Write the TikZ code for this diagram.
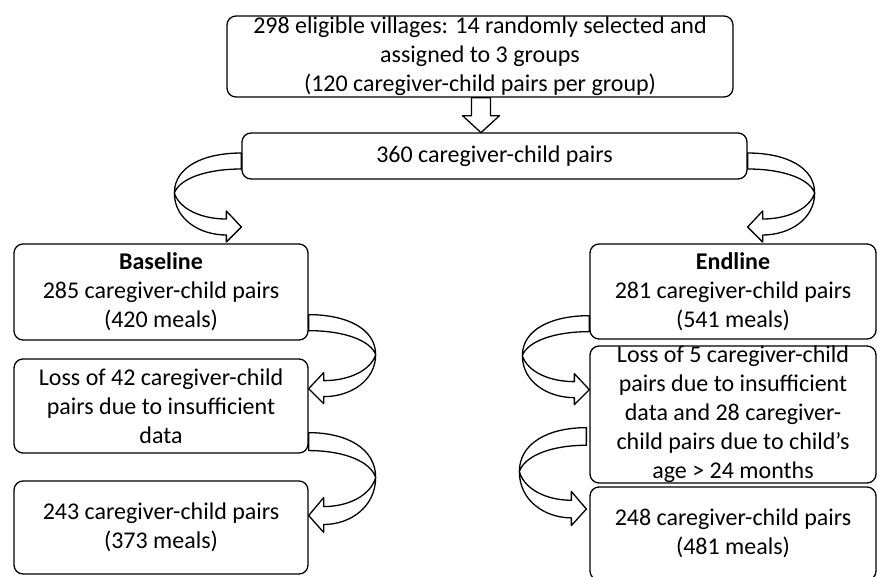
\documentclass[tikz,border=0pt]{standalone}
\usepackage{fontspec}
\setmainfont{Carlito}
\usetikzlibrary{calc}

\tikzset{
  flowbox/.style={draw, line width=1.3pt, rounded corners=9pt, align=center,
    inner sep=0pt, font=\fontsize{24}{29}\selectfont},
  arrowline/.style={draw, line width=1.3pt, fill=white, line join=round},
  % hollow curved arrow, tail top at the origin, bulging to the left
  bendarrow/.pic={
    \draw[arrowline] (0,0) .. controls (-38,0) and (-67,14) .. (-67,40)
      .. controls (-67,66) and (-42,82) .. (-15,82)
      -- (-15,89) -- (0,74) -- (-15,58) -- (-15,66)
      .. controls (-40,66) and (-62,56) .. (-67,40)
      .. controls (-62,26) and (-36,16) .. (0,16) -- cycle;
  }
}

\begin{document}
\begin{tikzpicture}[x=1pt, y=-1pt]
  \useasboundingbox (0,0) rectangle (878,576);

  % ── Sampling ──
  \node[flowbox, minimum width=506pt, minimum height=81pt] (villages) at (480,56.5)
    {298 eligible villages: 14 randomly selected and\\ assigned to 3 groups\\
     (120 caregiver-child pairs per group)};
  \node[flowbox, minimum width=505pt, minimum height=46pt] (pairs) at (494.5,156)
    {360 caregiver-child pairs};
  % Down arrow
  \draw[arrowline] ($(villages.south)+(-8.5,0)$) -- ++(0,18) -- ++(-9,0)
    -- ++(18.5,17) -- ++(18.5,-17) -- ++(-9,0) -- ++(0,-18) -- cycle;

  % ── Baseline ──
  \node[flowbox, minimum width=294pt, minimum height=96pt] (baseline) at (161,292)
    {\textbf{Baseline}\\ 285 caregiver-child pairs\\ (420 meals)};
  \node[flowbox, minimum width=294pt, minimum height=94pt] (lossbase) at (161,406)
    {Loss of 42 caregiver-child\\ pairs due to insufficient\\ data};
  \node[flowbox, minimum width=294pt, minimum height=93pt] (finalbase) at (161,527.5)
    {243 caregiver-child pairs\\ (373 meals)};

  % ── Endline ──
  \node[flowbox, minimum width=286pt, minimum height=95pt] (endline) at (733,291.5)
    {\textbf{Endline}\\ 281 caregiver-child pairs\\ (541 meals)};
  \node[flowbox, minimum width=286pt, minimum height=137pt] (lossend) at (733,414.5)
    {Loss of 5 caregiver-child\\ pairs due to insufficient\\ data and 28 caregiver-\\
     child pairs due to child's\\ age > 24 months};
  \node[flowbox, minimum width=286pt, minimum height=93pt] (finalend) at (733,533.5)
    {248 caregiver-child pairs\\ (481 meals)};

  % ── Curved arrows ──
  \pic at ($(pairs.west)+(0,-3)$) {bendarrow};
  \pic[xscale=-1] at ($(pairs.east)+(0,-3)$) {bendarrow};
  \pic[xscale=-1] at ($(baseline.south east)+(0,-26)$) {bendarrow};
  \pic[xscale=-1, yscale=1.12] at ($(lossbase.south east)+(0,-21)$) {bendarrow};
  \pic at ($(endline.south west)+(0,-24)$) {bendarrow};
  \pic[yscale=1.1] at ($(lossend.south west)+(-3,-56)$) {bendarrow};
\end{tikzpicture}
\end{document}
